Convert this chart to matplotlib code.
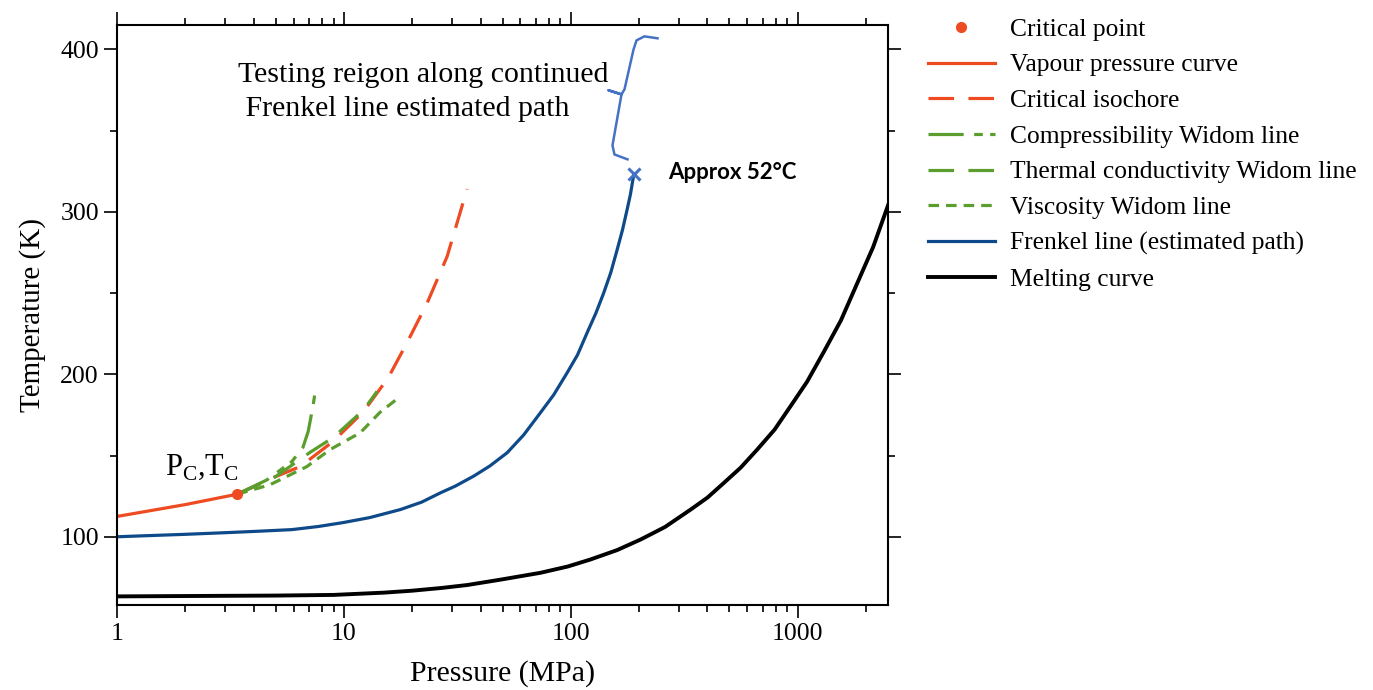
import matplotlib
matplotlib.use('Agg')
import matplotlib.pyplot as plt
from matplotlib.ticker import FixedLocator, NullFormatter, MultipleLocator

plt.rcParams['font.family'] = ['Liberation Serif', 'DejaVu Serif']
plt.rcParams['mathtext.fontset'] = 'custom'
plt.rcParams['mathtext.rm'] = 'Liberation Serif'

# critical point (nitrogen)
crit_p = [3.39]
crit_t = [126.2]

vap_p = [1, 2, 3.39]
vap_t = [112.5, 119.8, 126.2]

iso_p = [3.39, 5.0, 6.42, 8.95, 12.2, 15.7, 19.0, 23.3, 28.5, 34.9]
iso_t = [126.2, 137, 143.2, 158.6, 177, 198, 219.6, 244, 272.5, 314]

comp_p = [3.39, 4.58, 5.9, 6.6, 6.96, 7.3, 7.47]
comp_t = [126.2, 135, 146.3, 155, 164.8, 180, 189]

therm_p = [3.39, 5.0, 7.1, 8.95, 12.2, 14.0]
therm_t = [126.2, 137, 152, 161, 178, 189.5]

visc_p = [3.39, 4.72, 6.87, 8.7, 11.8, 14.4, 17.7]
visc_t = [126.2, 132, 143.2, 153.7, 164, 176.5, 186.3]

frenkel_p = [1, 2, 3, 4.2, 5.9, 7.7, 9.9, 13, 17.7, 22, 26.6, 31, 37.3, 44, 52.4, 62,
             73.4, 84, 96.3, 107, 118, 129, 139.7, 150, 160.1, 169, 177.1, 183, 189.4]
frenkel_t = [100, 101.5, 102.5, 103.4, 104.4, 106.3, 108.7, 111.8, 116.7, 121.3, 127, 131.2,
             137.3, 143.6, 151.7, 162.7, 176.3, 187.3, 200.9, 211.9, 225.6, 237.7, 250.2,
             262.6, 276.8, 289, 301.5, 310.6, 323]

melt_p = [1, 5, 9, 15, 20, 27, 35, 49, 73.4, 97, 122, 160, 203, 260, 337, 400, 473, 560,
          663, 790, 930, 1100, 1305, 1550, 1832, 2150, 2500]
melt_t = [63.3, 63.8, 64.2, 65.6, 66.8, 68.5, 70.3, 73.6, 77.8, 81.7, 86, 91.8, 98.3, 106,
          116.7, 124.1, 133.2, 142.5, 153.7, 165.9, 180.4, 195.5, 214, 233.2, 256.3, 278.4, 304]

# brace beside the testing region (data coords)
brace_p = [241, 211, 194.7, 189, 172.4, 167.2, 146.6, 167.2, 152.6, 155.7, 177.7]
brace_t = [406.8, 408, 405.5, 400, 375.4, 372.3, 374.8, 372.3, 340.9, 335.3, 332.3]

x_major = [1, 10, 100, 1000]
x_labels = ['1', '10', '100', '1000']

orange = '#EE4B22'
green = '#5B9E2E'
blue = '#0E4A8A'
light_blue = '#4472C4'

fig = plt.figure(figsize=(13.73, 6.9), dpi=100)
ax = fig.add_axes([0.0852, 0.1232, 0.5616, 0.8406])

lw = 2.3
ax.plot(vap_p, vap_t, color=orange, lw=lw, label='Vapour pressure curve')
ax.plot(iso_p, iso_t, color=orange, lw=lw, ls=(0, (8, 4.5)), label='Critical isochore')
ax.plot(comp_p, comp_t, color=green, lw=lw, ls=(0, (11, 3.3, 2.7, 2.3, 2.7, 3.3)),
        label='Compressibility Widom line')
ax.plot(therm_p, therm_t, color=green, lw=lw, ls=(0, (8, 4.5)),
        label='Thermal conductivity Widom line')
ax.plot(visc_p, visc_t, color=green, lw=lw, ls=(0, (3.3, 2.2)), label='Viscosity Widom line')
ax.plot(frenkel_p, frenkel_t, color=blue, lw=lw, label='Frenkel line (estimated path)')
ax.plot(melt_p, melt_t, color='black', lw=2.8, label='Melting curve')
ax.plot(crit_p, crit_t, 'o', color=orange, ms=7, label='Critical point')
ax.plot(frenkel_p[-1:], frenkel_t[-1:], 'x', color=light_blue, ms=8, mew=2.2)
ax.plot(brace_p, brace_t, color=light_blue, lw=1.8, solid_joinstyle='round')

ax.set_xscale('log')
ax.set_xlim(1, 2500)
ax.set_ylim(58, 415)
ax.xaxis.set_major_locator(FixedLocator(x_major))
ax.set_xticklabels(x_labels)
ax.xaxis.set_minor_locator(FixedLocator([m * d for d in [1, 10, 100, 1000] for m in range(2, 10)]))
ax.xaxis.set_minor_formatter(NullFormatter())
ax.yaxis.set_major_locator(MultipleLocator(100))
ax.yaxis.set_minor_locator(MultipleLocator(50))

ax.tick_params(which='both', direction='out', top=True, right=True, width=1.2, labelsize=18.5)
ax.tick_params(which='major', length=9.5)
ax.tick_params(which='minor', length=5)
for s in ax.spines.values():
    s.set_linewidth(1.5)

ax.set_xlabel('Pressure (MPa)', fontsize=21.5, labelpad=11)
ax.set_ylabel('Temperature (K)', fontsize=21, labelpad=10)

ax.text(3.42, 373.8, 'Testing reigon along continued\n Frenkel line estimated path',
        fontsize=21.5, ha='left', va='center', linespacing=1.4)
ax.text(269, 324, 'Approx 52°C', fontsize=16, fontweight='bold', family=['Lato', 'DejaVu Sans'],
        ha='left', va='center')
ax.text(1.63, 142.5, r'P$_{\mathrm{C}}$,T$_{\mathrm{C}}$', fontsize=22, ha='left', va='center')

h, l = ax.get_legend_handles_labels()
order = [7, 0, 1, 2, 3, 4, 5, 6]
fig.legend([h[i] for i in order], [l[i] for i in order], loc='upper left',
           bbox_to_anchor=(0.676, 0.974), frameon=False, fontsize=18.4,
           handlelength=2.6, handletextpad=0.6, labelspacing=0.5, borderpad=0,
           borderaxespad=0)

fig.savefig('out.png', dpi=100)
